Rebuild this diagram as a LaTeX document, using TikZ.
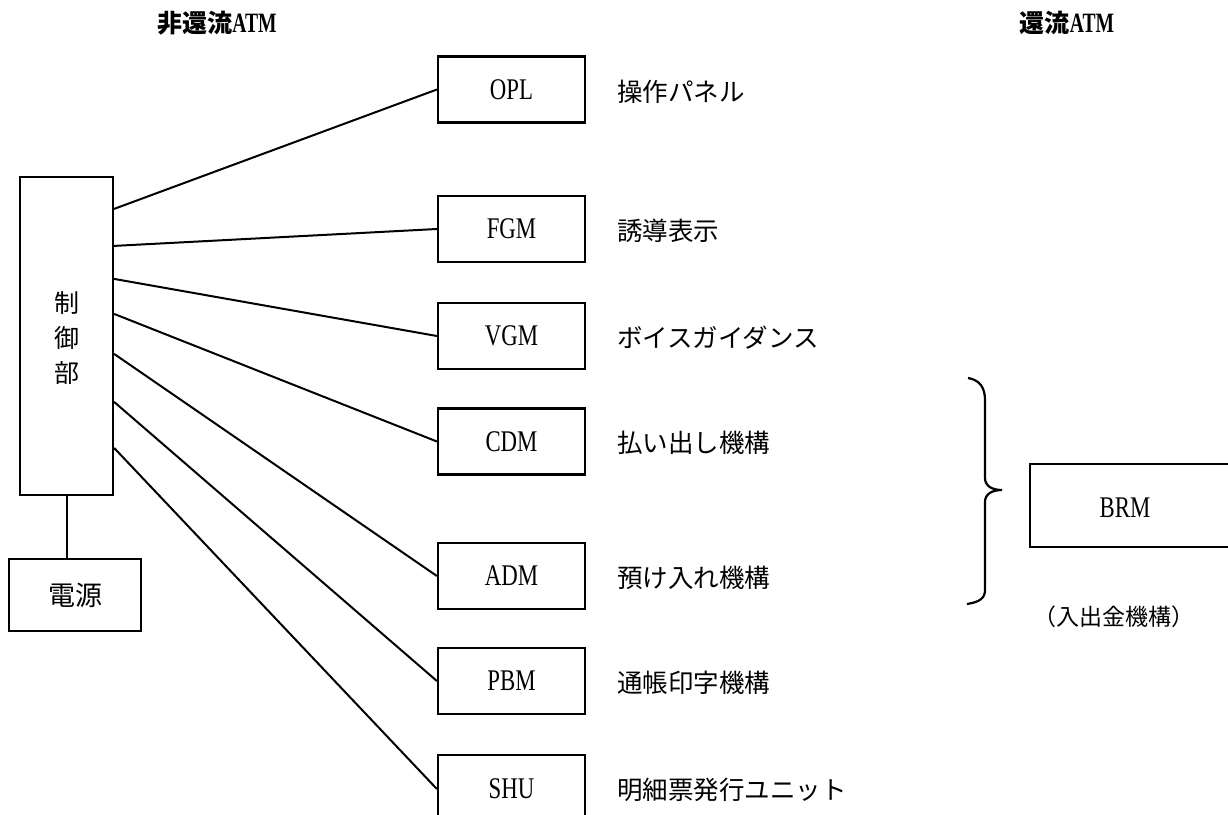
\documentclass[tikz,border=0pt]{standalone}
\usepackage{fontspec}
\newfontfamily\lat{Liberation Serif}[FakeStretch=0.76]
\newfontfamily\latb{Liberation Serif}[FakeStretch=0.7]
\newfontfamily\cjk{Noto Sans CJK JP}
\begin{document}
\begin{tikzpicture}[x=1pt,y=-1pt,
  modbox/.style={draw,line width=2.2pt,minimum width=147pt,minimum height=66pt,inner sep=0pt,font={\fontsize{30}{32}\selectfont\lat}},
  conn/.style={line width=2pt},
  lbl/.style={anchor=west,inner sep=0pt,font={\fontsize{25.5}{30}\selectfont\cjk}},
  ttl/.style={inner sep=0pt}]
\useasboundingbox (0,0) rectangle (1228,814);
\clip (0,0) rectangle (1228,814);
\fill[white] (0,0) rectangle (1228,814);

% titles
\node[ttl] (t1) at (217,23) {\fontsize{25}{30}\selectfont\cjk\bfseries 非還流\fontsize{28}{30}\selectfont\latb\bfseries ATM};
\node[ttl] (t2) at (1067,23) {\fontsize{25}{30}\selectfont\cjk\bfseries 還流\fontsize{28}{30}\selectfont\latb\bfseries ATM};

% control unit and power
\node[draw,line width=2.2pt,minimum width=93pt,minimum height=318pt,inner sep=0pt] (ctl) at (66.5,336) {};
\node[align=center,inner sep=0pt,font={\fontsize{25}{35}\selectfont\cjk}] (ctltxt) at (67,338) {制\\御\\部};
\node[draw,line width=2.2pt,minimum width=132pt,minimum height=72pt,inner sep=0pt,font={\fontsize{27}{30}\selectfont\cjk}] (pwr) at (75,595) {電源};
\draw[conn] (ctl.south) -- (ctl.south |- pwr.north);

% module boxes
\node[modbox] (opl) at (511.5,89.5) {OPL};
\node[modbox] (fgm) at (511.5,229) {FGM};
\node[modbox] (vgm) at (511.5,336) {VGM};
\node[modbox] (cdm) at (511.5,441.5) {CDM};
\node[modbox] (adm) at (511.5,576) {ADM};
\node[modbox] (pbm) at (511.5,681) {PBM};
\node[modbox,minimum height=68pt] (shu) at (511.5,789) {SHU};

% labels
\node[lbl] (lopl) at (617,92) {操作パネル};
\node[lbl] (lfgm) at (617,231) {誘導表示};
\node[lbl] (lvgm) at (617,338) {ボイスガイダンス};
\node[lbl] (lcdm) at (617,443) {払い出し機構};
\node[lbl] (ladm) at (617,578) {預け入れ機構};
\node[lbl] (lpbm) at (617,683) {通帳印字機構};
\node[lbl] (lshu) at (617,790) {明細票発行ユニット};

% connectors
\draw[conn] ([yshift=-33pt]ctl.north east) -- (opl.west);
\draw[conn] ([yshift=-70pt]ctl.north east) -- (fgm.west);
\draw[conn] ([yshift=-103pt]ctl.north east) -- (vgm.west);
\draw[conn] ([yshift=-138pt]ctl.north east) -- (cdm.west);
\draw[conn] ([yshift=-178pt]ctl.north east) -- (adm.west);
\draw[conn] ([yshift=-226pt]ctl.north east) -- (pbm.west);
\draw[conn] ([yshift=-272pt]ctl.north east) -- (shu.west);

% brace
\draw[line width=2.2pt] (968,378) .. controls (980,380) and (985,388) .. (985,400)
  -- (985,478) .. controls (985,486) and (992,490) .. (1002,490)
  .. controls (992,490) and (985,494) .. (985,502)
  -- (985,590) .. controls (985,598) and (980,602) .. (967,604);

% BRM
\node[draw,line width=2.2pt,minimum width=202pt,minimum height=83pt,inner sep=0pt] (brm) at (1131,505.5) {};
\node[inner sep=0pt,font={\fontsize{30}{32}\selectfont\lat}] (brmtxt) at (1125,508) {BRM};
\node[lbl,font={\fontsize{23}{28}\selectfont\cjk}] (lbrm) at (1033,617) {（入出金機構）};
\end{tikzpicture}
\end{document}
